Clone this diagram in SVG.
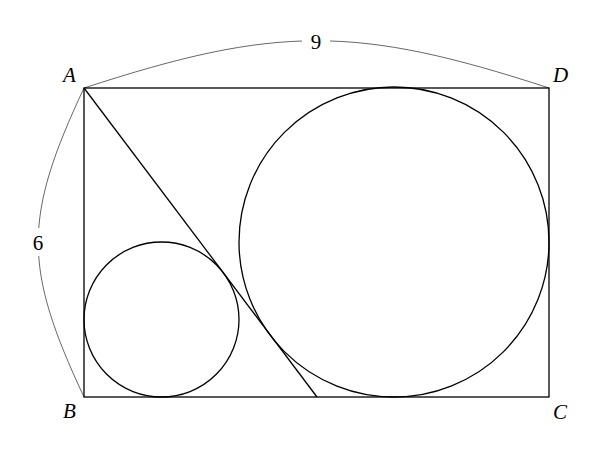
<svg xmlns="http://www.w3.org/2000/svg" width="607" height="456" viewBox="0 0 607 456">
<style>
.s{fill:none;stroke:#000;stroke-width:1.3}
.t{fill:none;stroke:#000;stroke-width:0.6}
.lab{font-family:"Liberation Serif",serif;font-style:italic;font-size:21px;fill:#000}
.num{font-family:"Liberation Serif",serif;font-size:21px;fill:#000;text-anchor:middle}
</style>
<rect width="607" height="456" fill="#fff"/>
<g id="connectors">
<path class="t" d="M84,88 C277,25 356,25 549,88"/>
<path class="t" d="M84,88 C23,218 23,267 84,397"/>
<rect x="302" y="30" width="28" height="22" fill="#fff"/>
<rect x="26" y="228" width="24" height="28" fill="#fff"/>
</g>
<g id="rect"><rect class="s" x="84" y="88" width="465" height="309"/></g>
<g id="diag"><line class="s" x1="84" y1="88" x2="317" y2="397"/></g>
<g id="small"><circle class="s" cx="161.5" cy="319.5" r="77.5"/></g>
<g id="big"><circle class="s" cx="394" cy="242" r="155"/></g>
<g id="labels">
<text class="lab" x="63" y="82">A</text>
<text class="lab" x="63" y="418">B</text>
<text class="lab" x="553" y="419">C</text>
<text class="lab" x="553" y="82">D</text>
<text class="num" x="316" y="49">9</text>
<text class="num" x="38" y="250">6</text>
</g>
</svg>
